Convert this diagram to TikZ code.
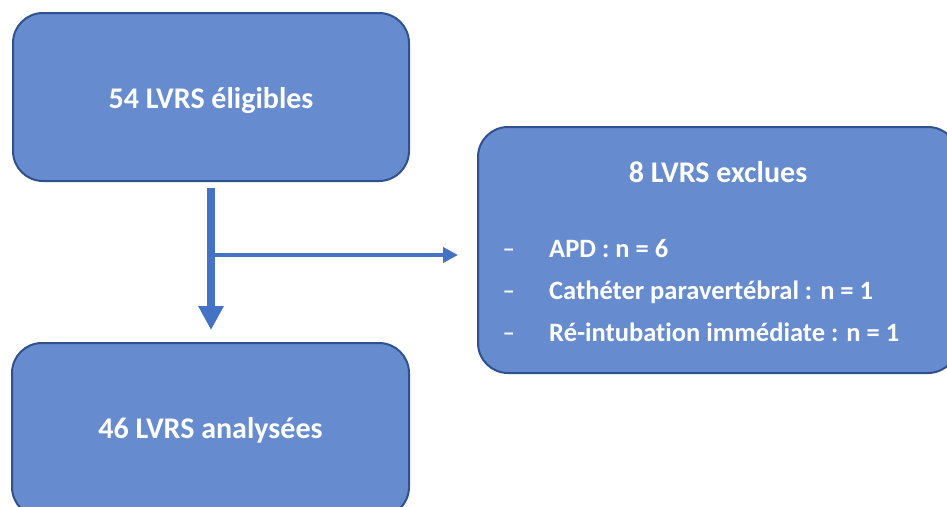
\documentclass[tikz,border=0pt]{standalone}
\usepackage{fontspec}
\setmainfont[Ligatures=NoCommon]{Carlito}
\usetikzlibrary{arrows.meta}
\definecolor{boxfill}{RGB}{102,139,207}
\definecolor{boxline}{RGB}{47,82,143}
\definecolor{arrowblue}{RGB}{68,114,196}
\begin{document}
\begin{tikzpicture}[x=1pt,y=-1pt,
  flowbox/.style={draw=boxline, line width=2pt, fill=boxfill, rounded corners=30pt, inner sep=0pt},
  titletext/.style={text=white, font=\bfseries\fontsize{30}{34}\selectfont, inner sep=0pt, anchor=base},
  itemtext/.style={text=white, font=\bfseries\fontsize{26.5}{30}\selectfont, inner sep=0pt, anchor=base west},
  dashtext/.style={text=white, font=\fontsize{26.5}{30}\selectfont, inner sep=0pt, anchor=base west},
  bigarrow/.style={draw=arrowblue, line width=8pt, -{Triangle[width=24pt,length=24pt]}},
  thinarrow/.style={draw=arrowblue, line width=4pt, -{Triangle[width=15pt,length=15pt]}}]
\useasboundingbox (0,0) rectangle (947,506);
\clip (0,0) rectangle (947,506);
\node[flowbox, minimum width=396pt, minimum height=168pt] (elig) at (211,97) {};
\node[flowbox, minimum width=397pt, minimum height=174pt] (anal) at (210.5,430) {};
\node[flowbox, minimum width=480pt, minimum height=246pt] (excl) at (718,250) {};
\node[titletext] (t1) at (211,108) {54 LVRS éligibles};
\node[titletext] (t2) at (210.5,438) {46 LVRS analysées};
\node[titletext] (t3) at (718,182) {8 LVRS exclues};
\node[dashtext] (d1) at (503,257) {\scalebox{1.4}[1]{-}};
\node[dashtext] (d2) at (503,299) {\scalebox{1.4}[1]{-}};
\node[dashtext] (d3) at (503,341) {\scalebox{1.4}[1]{-}};
\node[itemtext] (b1) at (549,257) {APD : n = 6};
\node[itemtext] (b2) at (549,299) {Cathéter paravertébral : n = 1};
\node[itemtext] (b3) at (549,341) {Ré-intubation immédiate : n = 1};
\draw[bigarrow, shorten <=6pt, shorten >=12pt] (elig.south -| 211,0) -- (anal.north -| 211,0);
\coordinate (branch) at (215,255);
\draw[thinarrow, shorten >=19pt] (branch) -- (branch -| excl.west);
\end{tikzpicture}
\end{document}
